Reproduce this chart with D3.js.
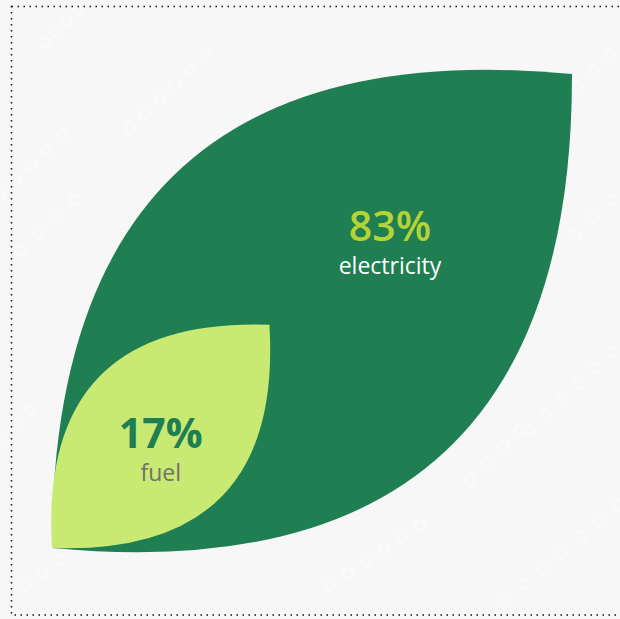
<!DOCTYPE html>
<html>
<head>
<meta charset="utf-8">
<script src="https://cdn.jsdelivr.net/npm/d3@7"></script>
<style>
  html, body { margin: 0; padding: 0; background: #ffffff; }
  svg { display: block; }
  .pct { font-family: "Open Sans", sans-serif; text-anchor: middle; }
  .name { font-family: "Open Sans", sans-serif; text-anchor: middle; font-size: 23px; }
</style>
</head>
<body>
<div id="chart"></div>
<script>
// data
const categories = ['electricity', 'fuel'];
const values = [83, 17];
const valueLabels = ['83%', '17%'];

const totalW = 620, totalH = 619;
const margin = {left: 52, top: 74, right: 48, bottom: 71};
const W = totalW - margin.left - margin.right;
const H = totalH - margin.top - margin.bottom;

const leafColors = ['#1f7e52', '#c8ea72'];
const pctColors = ['#b5d334', '#1f7e52'];
const nameColors = ['#ffffff', '#707070'];
const BULGE = 0.55; // control point offset, as a share of the chord

const svg = d3.select('#chart').append('svg')
  .attr('width', totalW)
  .attr('height', totalH);

// background + dotted frame
svg.append('rect')
  .attr('width', totalW).attr('height', totalH)
  .attr('fill', '#f7f7f7');

// faint ring chains in the background
const ringChains = [
  [[45, 42], [78, 10], 3], [[130, 128], [205, 55], 5], [[0, 195], [62, 135], 4],
  [[20, 250], [75, 200], 3], [[0, 440], [30, 410], 2], [[545, 118], [610, 55], 4],
  [[575, 235], [612, 200], 2], [[530, 430], [612, 352], 5], [[470, 480], [520, 430], 3],
  [[330, 585], [420, 525], 5], [[505, 600], [618, 505], 6], [[25, 585], [60, 560], 2]
];
const rings = svg.append('g').attr('class', 'rings');
ringChains.forEach(([a, b, n]) => {
  d3.range(n + 1).forEach(i => {
    let t = n ? i / n : 0;
    rings.append('circle')
      .attr('cx', a[0] + (b[0] - a[0]) * t)
      .attr('cy', a[1] + (b[1] - a[1]) * t)
      .attr('r', 5)
      .attr('fill', 'none')
      .attr('stroke', '#fafafa')
      .attr('stroke-width', 2.5);
  });
});

svg.append('rect')
  .attr('x', 11.5).attr('y', 6.5)
  .attr('width', 640).attr('height', 608.5)
  .attr('fill', 'none')
  .attr('stroke', '#111')
  .attr('stroke-width', 1.5)
  .attr('stroke-dasharray', '1.5 4.5');

const g = svg.append('g')
  .attr('transform', `translate(${margin.left}, ${margin.top + H})`);

// leaf size: tip offset from the shared stem point
const xSize = d3.scalePow().exponent(0.55)
  .domain([0, d3.max(values)])
  .range([0, W]);
const ySize = d3.scalePow().exponent(0.475)
  .domain([0, d3.max(values)])
  .range([0, H]);

function leafPath(v) {
  let w = xSize(v), h = ySize(v);
  let mx = w / 2, my = -h / 2;
  let p = d3.path();
  p.moveTo(0, 0);
  // upper edge bulges up-left, lower edge down-right
  p.quadraticCurveTo(mx - BULGE * h, my - BULGE * w, w, -h);
  p.quadraticCurveTo(mx + BULGE * h, my + BULGE * w, 0, 0);
  p.closePath();
  return p.toString();
}

const leaves = values.map((v, i) => ({
  name: categories[i], value: v, label: valueLabels[i], i: i
})).sort((a, b) => b.value - a.value);

g.selectAll('.leaf')
  .data(leaves)
  .enter()
  .append('path')
  .attr('class', 'leaf')
  .attr('d', d => leafPath(d.value))
  .attr('fill', d => leafColors[d.i]);

// labels sit inside each leaf: the big one off toward its tip
const labelFrac = d => d.i === 0 ? [0.65, 0.648] : [0.5, 0.45];
const lab = g.selectAll('.lab')
  .data(leaves)
  .enter()
  .append('g')
  .attr('class', 'lab')
  .attr('transform', d => {
    let f = labelFrac(d);
    return `translate(${xSize(d.value) * f[0]}, ${-ySize(d.value) * f[1]})`;
  });

lab.append('text')
  .attr('class', 'pct')
  .attr('font-size', 41)
  .attr('font-weight', d => d.i === 0 ? 600 : 700)
  .attr('fill', d => pctColors[d.i])
  .text(d => d.label);

lab.append('text')
  .attr('class', 'name')
  .attr('y', 33)
  .attr('fill', d => nameColors[d.i])
  .text(d => d.name);
</script>
</body>
</html>
